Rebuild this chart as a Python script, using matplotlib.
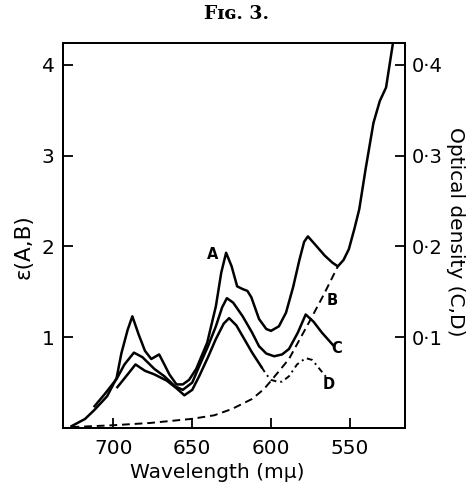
import matplotlib
matplotlib.use("Agg")
import matplotlib.pyplot as plt

# --- data (wavelength in m-mu, extinction / optical density) ---
wl_a = [726.6, 718, 712, 704, 698, 695, 691, 688, 684, 680, 676, 673, 671, 668, 664.5,
        660, 656, 652, 647.5, 640.5, 635, 631.6, 628.5, 625, 621.5, 618, 615, 612.5,
        607.6, 603, 600, 595, 590.5, 586, 582, 579, 576.6, 572, 566, 561, 557.6, 554,
        550.6, 547, 544, 540, 535, 531, 527, 522.8, 522]
eps_a = [0.02, 0.1, 0.2, 0.35, 0.55, 0.82, 1.08, 1.23, 1.03, 0.85, 0.76, 0.79, 0.81, 0.71, 0.59,
         0.48, 0.48, 0.53, 0.65, 0.94, 1.34, 1.71, 1.93, 1.78, 1.56, 1.53, 1.51, 1.44,
         1.2, 1.09, 1.07, 1.12, 1.27, 1.55, 1.85, 2.05, 2.11, 2.02, 1.9, 1.82, 1.78, 1.85,
         1.97, 2.2, 2.41, 2.85, 3.36, 3.6, 3.75, 4.22, 4.35]

wl_b = [726.6, 700.6, 677, 650.6, 636, 624.7, 612, 604.4, 600, 588.6, 576, 566.5, 557.6]
eps_b = [0.01, 0.03, 0.055, 0.1, 0.14, 0.21, 0.32, 0.43, 0.52, 0.76, 1.16, 1.47, 1.78]

wl_c = [712, 705.7, 698, 693, 687, 681.6, 674, 667.7, 661, 656, 650, 645.6, 640, 635, 631, 628,
        624, 618, 612, 607.6, 603, 598, 593, 588.6, 583, 578, 573, 567.7, 560]
od_c = [0.024, 0.037, 0.054, 0.070, 0.083, 0.078, 0.065, 0.057, 0.046, 0.042, 0.050, 0.068,
        0.090, 0.112, 0.133, 0.143, 0.138, 0.123, 0.105, 0.090, 0.082, 0.079, 0.081, 0.087,
        0.105, 0.125, 0.117, 0.105, 0.090]

wl_d_solid = [697.5, 691, 686, 680, 674, 666, 659.5, 655, 650, 645.6, 640, 635, 630, 626.6,
              622, 618, 612, 606]
od_d_solid = [0.045, 0.059, 0.070, 0.063, 0.059, 0.052, 0.043, 0.036, 0.042, 0.057, 0.078,
              0.098, 0.115, 0.121, 0.113, 0.101, 0.083, 0.067]
wl_d_dash = [606, 603, 600, 596, 593, 588.6, 583.5, 578, 574, 571.5, 565]
od_d_dash = [0.067, 0.059, 0.053, 0.051, 0.051, 0.057, 0.070, 0.077, 0.075, 0.070, 0.056]

x_ticks = [700, 650, 600, 550]
left_ticks = [1, 2, 3, 4]
right_ticks = [0.1, 0.2, 0.3, 0.4]
right_labels = ["0·1", "0·2", "0·3", "0·4"]

fig = plt.figure(figsize=(4.72, 4.84), dpi=100)
ax = fig.add_axes([0.1335, 0.1157, 0.7245, 0.7955])
ax2 = ax.twinx()

lw = 1.8
ax.plot(wl_a, eps_a, color="black", lw=lw, solid_joinstyle="round")
ax.plot(wl_b, eps_b, color="black", lw=1.4, ls=(0, (4, 2.5)))
ax2.plot(wl_c, od_c, color="black", lw=lw, solid_joinstyle="round")
ax2.plot(wl_d_solid, od_d_solid, color="black", lw=lw, solid_joinstyle="round")
ax2.plot(wl_d_dash, od_d_dash, color="black", lw=1.4, ls=(0, (3, 2, 1, 2)))

ax.set_xlim(732, 515)
ax.set_ylim(0, 4.24)
ax2.set_ylim(0, 0.424)

ax.set_xticks(x_ticks)
ax.set_yticks(left_ticks)
ax2.set_yticks(right_ticks)
ax2.set_yticklabels(right_labels)

ax.tick_params(axis="both", direction="in", length=7, width=1.3, labelsize=14.5, pad=6)
ax.tick_params(axis="x", pad=8)
ax2.tick_params(axis="y", direction="in", length=7, width=1.3, labelsize=14, pad=5)
for a in (ax, ax2):
    for sp in a.spines.values():
        sp.set_linewidth(1.4)

ax.set_xlabel("Wavelength (mμ)", fontsize=14.5, labelpad=3)
ax.xaxis.set_label_coords(0.45, -0.09)
ax.set_ylabel("ε(A,B)", fontsize=15.5, labelpad=8)
ax.yaxis.set_label_coords(-0.085, 0.47)
ax2.set_ylabel("Optical density (C,D)", fontsize=14.5, rotation=-90, labelpad=18)
ax2.yaxis.set_label_coords(1.175, 0.51)

# curve letters
ax.text(637.3, 1.91, "A", fontsize=10.5, fontweight="bold", ha="center", va="center")
ax.text(561.4, 1.40, "B", fontsize=10.5, fontweight="bold", ha="center", va="center")
ax.text(558.2, 0.87, "C", fontsize=10.5, fontweight="bold", ha="center", va="center")
ax.text(563.3, 0.48, "D", fontsize=10.5, fontweight="bold", ha="center", va="center")

fig.text(0.5, 0.972, "Fɪɢ. 3.", family="DejaVu Serif", fontsize=13.5, fontweight="bold",
         ha="center", va="center")

fig.savefig("out.png", dpi=100)
